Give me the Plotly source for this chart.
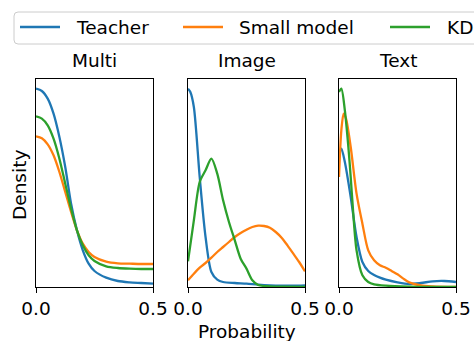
import plotly.graph_objects as go

# ---------------- data (density, arbitrary units) ----------------
series_names = ["Teacher", "Small model", "KD"]
colors = ["#1f77b4", "#ff7f0e", "#2ca02c"]
panel_titles = ["Multi", "Image", "Text"]
tick_vals = [0, 0.5]
tick_text = ["0.0", "0.5"]

# Multi
multi_x = [0, 0.025, 0.05, 0.075, 0.1, 0.125, 0.15, 0.175, 0.2, 0.225, 0.25, 0.3, 0.35, 0.4, 0.45, 0.5]
multi_teacher = [595, 588, 565, 520, 450, 360, 250, 170, 110, 70, 48, 28, 18, 14, 12, 10]
multi_small = [452, 446, 428, 395, 345, 285, 225, 170, 130, 105, 90, 76, 71, 70, 69, 69]
multi_kd = [512, 505, 485, 445, 385, 310, 235, 170, 125, 95, 78, 62, 57, 55, 54, 54]

# Image
image_teacher_x = [0, 0.01, 0.025, 0.05, 0.075, 0.1, 0.125, 0.15, 0.2, 0.25, 0.3, 0.35, 0.4, 0.45, 0.5]
image_teacher = [595, 585, 540, 330, 150, 45, 22, 15, 12, 10, 7, 5, 4, 4, 5]
image_small_x = [0, 0.025, 0.05, 0.075, 0.1, 0.125, 0.15, 0.175, 0.2, 0.225, 0.25, 0.275, 0.3,
                 0.325, 0.35, 0.375, 0.4, 0.425, 0.45, 0.475, 0.5]
image_small = [20, 40, 58, 72, 88, 105, 120, 135, 150, 162, 172, 180, 184,
               183, 178, 165, 148, 125, 100, 75, 47]
image_kd_x = [0, 0.025, 0.05, 0.075, 0.1, 0.125, 0.15, 0.175, 0.2, 0.225, 0.25, 0.275, 0.3, 0.35, 0.4, 0.5]
image_kd = [77, 200, 315, 350, 385, 340, 260, 195, 140, 85, 55, 20, 6, 2, 1, 0]

# Text
text_teacher_x = [0, 0.01, 0.025, 0.05, 0.075, 0.1, 0.125, 0.15, 0.175, 0.2, 0.25, 0.3, 0.35, 0.4, 0.45, 0.5]
text_teacher = [400, 415, 375, 270, 150, 75, 48, 36, 28, 22, 14, 9, 12, 17, 18, 15]
text_small_x = [0, 0.01, 0.02, 0.03, 0.05, 0.075, 0.1, 0.125, 0.15, 0.175, 0.2, 0.225, 0.25, 0.275, 0.3, 0.35, 0.4, 0.5]
text_small = [330, 470, 520, 505, 420, 280, 190, 110, 80, 65, 58, 48, 38, 25, 14, 5, 2, 0]
text_kd_x = [0, 0.01, 0.025, 0.04, 0.05, 0.06, 0.075, 0.1, 0.125, 0.15, 0.2, 0.3, 0.4, 0.5]
text_kd = [585, 595, 530, 420, 330, 230, 110, 35, 15, 8, 4, 1, 0, 0]

panels = [
    [(multi_x, multi_teacher), (multi_x, multi_small), (multi_x, multi_kd)],
    [(image_teacher_x, image_teacher), (image_small_x, image_small), (image_kd_x, image_kd)],
    [(text_teacher_x, text_teacher), (text_small_x, text_small), (text_kd_x, text_kd)],
]

# ---------------- figure ----------------
W, H = 474, 341
FONT = "DejaVu Sans"
FS = 18.5


def px(x):
    return x / W


def py(y):
    return 1 - y / H


x_domains = [[px(36), px(153)], [px(188), px(305)], [px(339), px(456)]]
y_domain = [py(287), py(79)]

fig = go.Figure()
for p, traces in enumerate(panels):
    xa = "x" if p == 0 else f"x{p+1}"
    ya = "y" if p == 0 else f"y{p+1}"
    for s, (xs, ys) in enumerate(traces):
        fig.add_trace(go.Scatter(
            x=xs, y=ys, mode="lines", name=series_names[s],
            line=dict(color=colors[s], width=2.3, shape="spline", smoothing=0.8),
            xaxis=xa, yaxis=ya, showlegend=False,
        ))

layout = dict(
    width=W, height=H,
    margin=dict(l=0, r=0, t=0, b=0, autoexpand=False),
    paper_bgcolor="white", plot_bgcolor="white",
    font=dict(family=FONT, size=FS, color="black"),
    showlegend=False,
)
for p in range(3):
    sx = "" if p == 0 else str(p + 1)
    layout[f"xaxis{sx}"] = dict(
        domain=x_domains[p], range=[0, 0.5], anchor=f"y{sx}",
        tickvals=tick_vals, ticktext=tick_text, ticks="outside", ticklen=5,
        tickwidth=1, tickcolor="black", showgrid=False, zeroline=False,
        showline=True, linecolor="black", linewidth=1, mirror=True,
        tickfont=dict(size=FS), automargin=False,
    )
    layout[f"yaxis{sx}"] = dict(
        domain=y_domain, range=[0, 624], anchor=f"x{sx}",
        showticklabels=False, ticks="", showgrid=False, zeroline=False,
        showline=True, linecolor="black", linewidth=1, mirror=True,
        automargin=False,
    )
fig.update_layout(**layout)

# subplot titles
for p in range(3):
    cx = (x_domains[p][0] + x_domains[p][1]) / 2
    fig.add_annotation(text=panel_titles[p], x=cx, y=py(60), xref="paper", yref="paper",
                       showarrow=False, xanchor="center", yanchor="middle",
                       font=dict(size=FS, family=FONT))

# axis labels
fig.add_annotation(text="Density", x=px(19), y=py(185), xref="paper", yref="paper",
                   showarrow=False, textangle=-90, xanchor="center", yanchor="middle",
                   font=dict(size=FS, family=FONT))
fig.add_annotation(text="Probability", x=(x_domains[1][0] + x_domains[1][1]) / 2, y=py(331),
                   xref="paper", yref="paper", showarrow=False,
                   xanchor="center", yanchor="middle", font=dict(size=FS, family=FONT))

# legend (box, line samples, labels)
fig.add_shape(type="path", xref="paper", yref="paper",
              path=f"M {px(18)} {py(12)} L {px(480)} {py(12)} L {px(480)} {py(44)} "
                   f"L {px(18)} {py(44)} Q {px(14)} {py(44)} {px(14)} {py(40)} "
                   f"L {px(14)} {py(16)} Q {px(14)} {py(12)} {px(18)} {py(12)} Z",
              line=dict(color="#cccccc", width=1), fillcolor="white")
leg_line_x = [20, 183, 390]
leg_text_x = [74, 237, 445]
for s in range(3):
    fig.add_shape(type="line", xref="paper", yref="paper",
                  x0=px(leg_line_x[s]), x1=px(leg_line_x[s] + 40), y0=py(27), y1=py(27),
                  line=dict(color=colors[s], width=2.3))
    fig.add_annotation(text=series_names[s], x=px(leg_text_x[s]), y=py(27),
                       xref="paper", yref="paper", showarrow=False,
                       xanchor="left", yanchor="middle", font=dict(size=FS, family=FONT))

fig.write_html("out.html", config={"displayModeBar": False},
               post_script="document.body.style.margin='0';document.body.style.overflow='hidden';")
